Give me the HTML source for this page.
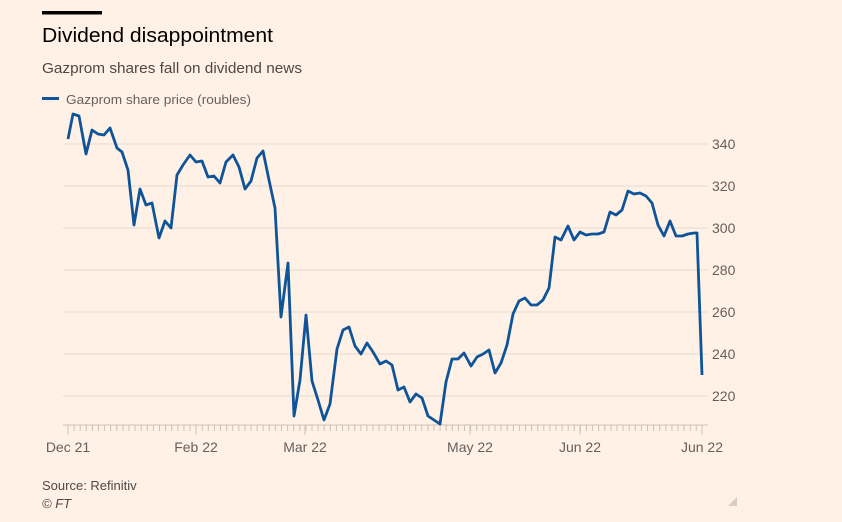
<!DOCTYPE html>
<html><head><meta charset="utf-8"><style>
html,body{margin:0;padding:0;background:#fff1e5;}
body{width:842px;height:522px;position:relative;overflow:hidden;font-family:"Liberation Sans",sans-serif;}
</style></head><body>
<svg width="842" height="522" viewBox="0 0 842 522" xmlns="http://www.w3.org/2000/svg" style="position:absolute;left:0;top:0">
<rect x="42" y="11" width="60" height="3.5" fill="#000"/>
<text x="42" y="42" font-size="20" fill="#000" textLength="231" lengthAdjust="spacingAndGlyphs" font-family="Liberation Sans, sans-serif">Dividend disappointment</text>
<text x="42" y="73" font-size="15" fill="#4d4845" textLength="260" lengthAdjust="spacingAndGlyphs" font-family="Liberation Sans, sans-serif">Gazprom shares fall on dividend news</text>
<rect x="42" y="97" width="17" height="3" fill="#0f5499"/>
<text x="66" y="104" font-size="13" fill="#66605c" textLength="185" lengthAdjust="spacingAndGlyphs" font-family="Liberation Sans, sans-serif">Gazprom share price (roubles)</text>
<g stroke="#e6d9ce" stroke-width="1">
<line x1="63" x2="708" y1="144" y2="144"/><line x1="63" x2="708" y1="186" y2="186"/>
<line x1="63" x2="708" y1="228" y2="228"/><line x1="63" x2="708" y1="270" y2="270"/>
<line x1="63" x2="708" y1="312" y2="312"/><line x1="63" x2="708" y1="354" y2="354"/>
<line x1="63" x2="708" y1="396" y2="396"/><line x1="63" x2="708" y1="425" y2="425" stroke="#ccc1b7"/>
</g>
<g id="ticks" stroke="#ccc1b7" stroke-width="1"></g>
<g font-size="14" fill="#66605c" font-family="Liberation Sans, sans-serif">
<text x="712" y="149">340</text><text x="712" y="191">320</text><text x="712" y="233">300</text>
<text x="712" y="275">280</text><text x="712" y="317">260</text><text x="712" y="359">240</text>
<text x="712" y="401">220</text>
<text x="68" y="452" text-anchor="middle">Dec 21</text>
<text x="196" y="452" text-anchor="middle">Feb 22</text>
<text x="305" y="452" text-anchor="middle">Mar 22</text>
<text x="470" y="452" text-anchor="middle">May 22</text>
<text x="580" y="452" text-anchor="middle">Jun 22</text>
<text x="702" y="452" text-anchor="middle">Jun 22</text>
</g>
<polyline fill="none" stroke="#0f5499" stroke-width="2.8" stroke-linejoin="round" points="68,139 73,114 79,116 86,154 92,130 98,134 104,135 110,128 117,148 122,152 128,170 134,225 140,189 146,205 152,203 159,238 165,221 171,228 177,175 183,165 190,155 196,162 202,161 208,177 214,176 220,183 226,162 233,155 239,167 245,189 251,181 257,158 263,151 269,180 275,208 281,317 288,263 294,416 300,380 306,315 312,381 318,400 324,420 330,404 337,349 343,330 349,327 355,346 361,354 367,343 373,352 380,364 386,361 392,365 398,390 404,387 410,402 416,394 422,398 428,416 434,420 440,424 446,382 452,359 458,359 464,353 471,366 477,357 483,354 489,350 495,373 501,363 507,345 513,314 519,301 525,298 531,305 537,305 543,300 549,288 555,237 561,240 568,226 574,240 580,232 586,235 592,234 598,234 604,232 610,212 616,215 622,210 628,191 634,194 640,193 646,196 652,203 658,225 664,236 670,221 676,236 682,236 688,234 694,233 697,233 702,375"/>
<text x="42" y="490" font-size="13" fill="#4d4845" font-family="Liberation Sans, sans-serif">Source: Refinitiv</text>
<text x="42" y="508" font-size="13" font-style="italic" fill="#4d4845" font-family="Liberation Sans, sans-serif">© FT</text>
<polygon points="737,497 737,506 728,506" fill="#d9cdc3"/>
</svg>
<script>
var g=document.getElementById('ticks'),s='';
for(var x=68;x<=702;x+=6.1){s+='<line x1="'+x+'" x2="'+x+'" y1="425" y2="431"/>';}
[68,196,305,470,580,702].forEach(function(x){s+='<line x1="'+x+'" x2="'+x+'" y1="425" y2="435"/>';});
g.innerHTML=s;
</script>
</body></html>
